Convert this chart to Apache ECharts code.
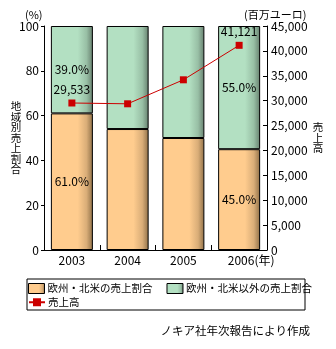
<!DOCTYPE html>
<html><head><meta charset="utf-8">
<script src="https://cdn.jsdelivr.net/npm/echarts@6/dist/echarts.min.js"></script>
<style>html,body{margin:0;padding:0;background:#fff}#c{width:336px;height:349px}</style>
</head><body><div id="c"></div>
<script>
var years = ['2003', '2004', '2005', '2006'];
var shareEuNa = [61.0, 54.0, 50.0, 45.0];
var shareOther = [39.0, 46.0, 50.0, 55.0];
var sales = [29533, 29371, 34191, 41121];
var labeledIdx = [0, 3];
var leftTicks = { min: 0, max: 100, interval: 20 };
var rightTicks = { min: 0, max: 45000, interval: 5000 };
var nameEuNa = '欧州・北米の売上割合';
var nameOther = '欧州・北米以外の売上割合';
var nameSales = '売上高';

var FONT = '"Noto Sans CJK JP", sans-serif';
function grad(base, mid, dark) {
  return new echarts.graphic.LinearGradient(0, 0, 1, 0, [
    { offset: 0, color: base }, { offset: 0.64, color: base },
    { offset: 0.85, color: mid }, { offset: 1, color: dark }]);
}
var orangeFill = grad('#ffcc8e', '#d9ad78', '#8f7048');
var greenFill = grad('#b3e0c2', '#98bfa5', '#667f6e');

function barData(vals) {
  return vals.map(function (v, i) {
    return { value: v, label: { show: labeledIdx.indexOf(i) >= 0 } };
  });
}
function fmtNum(v) { return String(v).replace(/\B(?=(\d{3})+(?!\d))/g, ','); }

var chart = echarts.init(document.getElementById('c'), null, { renderer: 'canvas' });
chart.setOption({
  animation: false,
  textStyle: { fontFamily: FONT, color: '#000' },
  grid: { left: 44, right: 69, top: 26, bottom: 99 },
  xAxis: {
    type: 'category', data: years,
    axisLine: { lineStyle: { color: '#000', width: 1 } },
    axisTick: { show: true, inside: true, length: 5, interval: 0, lineStyle: { color: '#000' } },
    axisLabel: {
      color: '#000', fontSize: 12, fontFamily: FONT, margin: 4, interval: 0,
      formatter: function (v, i) { return i === years.length - 1 ? '{p|}' + v + '(年)' : v; },
      rich: { p: { width: 24 } }
    }
  },
  yAxis: [{
    type: 'value', min: leftTicks.min, max: leftTicks.max, interval: leftTicks.interval,
    name: '地\n域\n別\n売\n上\n割\n合', nameLocation: 'middle', nameRotate: 0, nameGap: 28,
    nameMoveOverlap: false,
    nameTextStyle: { fontSize: 10.5, lineHeight: 10.5, color: '#000', fontFamily: FONT, align: 'center' },
    axisLine: { show: true, lineStyle: { color: '#000' } },
    axisTick: { show: true, length: 3, lineStyle: { color: '#000' } },
    splitLine: { show: false },
    axisLabel: { color: '#000', fontSize: 12, margin: 5, fontFamily: FONT }
  }, {
    type: 'value', min: rightTicks.min, max: rightTicks.max, interval: rightTicks.interval,
    position: 'right',
    name: '売\n上\n高', nameLocation: 'middle', nameRotate: 0, nameGap: 51,
    nameMoveOverlap: false,
    nameTextStyle: { fontSize: 10.5, lineHeight: 10.5, color: '#000', fontFamily: FONT, align: 'center' },
    axisLine: { show: true, lineStyle: { color: '#000' } },
    axisTick: { show: true, inside: true, length: 4, lineStyle: { color: '#000' } },
    splitLine: { show: false },
    axisLabel: { color: '#000', fontSize: 12, margin: 4, fontFamily: FONT, formatter: fmtNum }
  }],
  legend: [{
    left: 26, top: 281, padding: [2, 2], itemWidth: 16, itemHeight: 10, itemGap: 14,
    icon: 'rect',
    textStyle: { fontSize: 10.5, color: '#000', fontFamily: FONT, padding: [0, 0, 0, -2] },
    data: [
      { name: nameEuNa, itemStyle: { color: orangeFill, borderColor: '#000', borderWidth: 1 } },
      { name: nameOther, itemStyle: { color: greenFill, borderColor: '#000', borderWidth: 1 } }
    ]
  }, {
    left: 26, top: 295, padding: [2, 2], itemWidth: 16, itemHeight: 10,
    textStyle: { fontSize: 10.5, color: '#000', fontFamily: FONT, padding: [0, 0, 0, -2] },
    data: [{ name: nameSales }]
  }],
  graphic: [
    { type: 'rect', shape: { x: 27, y: 279, width: 278, height: 31 }, style: { fill: 'none', stroke: '#000', lineWidth: 1 }, z: 0 },
    { type: 'text', left: 25, top: 9, style: { text: '(%)', fontSize: 11, fill: '#000', fontFamily: FONT } },
    { type: 'text', left: 244, top: 9, style: { text: '(百万ユーロ)', fontSize: 11, fill: '#000', fontFamily: FONT } },
    { type: 'text', right: 26, top: 325, style: { text: 'ノキア社年次報告により作成', fontSize: 11.5, fill: '#000', fontFamily: FONT } }
  ],
  series: [{
    name: nameEuNa, type: 'bar', stack: 's', yAxisIndex: 0, barWidth: 42,
    data: barData(shareEuNa),
    itemStyle: { color: orangeFill, borderColor: '#000', borderWidth: 1 },
    label: { position: 'inside', color: '#000', fontSize: 12, fontFamily: FONT, formatter: function (p) { return p.value.toFixed(1) + '%'; } }
  }, {
    name: nameOther, type: 'bar', stack: 's', yAxisIndex: 0, barWidth: 42,
    data: barData(shareOther),
    itemStyle: { color: greenFill, borderColor: '#000', borderWidth: 1 },
    label: { position: 'inside', color: '#000', fontSize: 12, fontFamily: FONT, formatter: function (p) { return p.value.toFixed(1) + '%'; } }
  }, {
    name: nameSales, type: 'line', yAxisIndex: 1,
    data: sales.map(function (v, i) { return { value: v, label: { show: labeledIdx.indexOf(i) >= 0 } }; }),
    symbol: 'rect', symbolSize: 7, z: 5,
    lineStyle: { color: '#cc0000', width: 1 },
    itemStyle: { color: '#cc0000' },
    label: { position: 'top', distance: 4, color: '#000', fontSize: 12, fontFamily: FONT, formatter: function (p) { return fmtNum(p.value); } }
  }]
});
</script></body></html>
